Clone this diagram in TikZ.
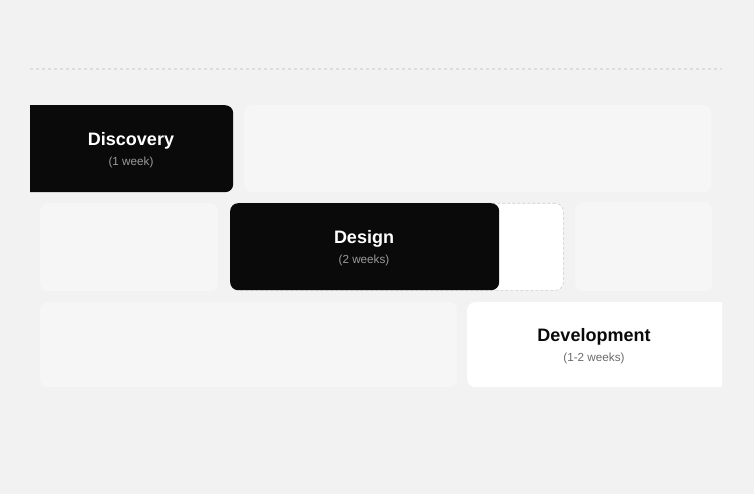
\documentclass[tikz,border=0pt]{standalone}
\usepackage{fontspec}
\setmainfont{Liberation Sans}
\definecolor{bg}{HTML}{F2F2F2}
\definecolor{cell}{HTML}{F6F6F6}
\definecolor{ink}{HTML}{0A0A0A}
\definecolor{rulecol}{HTML}{DDDDDD}
\definecolor{slotcol}{HTML}{CCCCCC}
\definecolor{subdark}{HTML}{9A9A9A}
\definecolor{sublight}{HTML}{6B6B6B}
\tikzset{
  cellbox/.style={fill=cell, rounded corners=8pt, draw=none},
  phasebox/.style={fill=ink, rounded corners=8pt, draw=none},
  lightphase/.style={fill=white, rounded corners=8pt, draw=none},
  slotbox/.style={fill=white, draw=slotcol, dash pattern=on 3pt off 2pt, line width=0.6pt, rounded corners=8pt},
  ttl/.style={font=\bfseries\fontsize{18}{20}\selectfont},
  sub/.style={font=\fontsize{11.7}{14}\selectfont},
}
\begin{document}
\begin{tikzpicture}[x=1pt,y=-1pt]
\useasboundingbox (0,0) rectangle (754,494);
\fill[bg] (0,0) rectangle (754,494);
% top dashed rule
\coordinate (tl) at (30,69);
\coordinate (tr) at (722,69);
\draw[rulecol, line width=1.2pt, dash pattern=on 3.3pt off 2.7pt] (tl) -- (tr);
% row 1
\begin{scope}
\clip (30,0) rectangle (754,494);
\node[phasebox, minimum width=223pt, minimum height=87pt, anchor=north west, inner sep=0pt] (disc) at (10,105) {};
\end{scope}
\node[cellbox, minimum width=467pt, minimum height=87pt, anchor=north west, inner sep=0pt] (r1c2) at (244,105) {};
\node[ttl, text=white] (disct) at (131,140.5) {Discovery};
\node[sub, text=subdark] (discs) at (131,162) {(1 week)};
% row 2
\node[cellbox, minimum width=178pt, minimum height=88pt, anchor=north west, inner sep=0pt] (r2c1) at (40,203) {};
\node[slotbox, minimum width=333pt, minimum height=87pt, anchor=north west, inner sep=0pt] (slot) at (230,203) {};
\node[phasebox, minimum width=269pt, minimum height=87pt, anchor=north west, inner sep=0pt] (des) at (230,203) {};
\node[cellbox, minimum width=137pt, minimum height=89pt, anchor=north west, inner sep=0pt] (r2c3) at (575,202) {};
\node[ttl, text=white] (dest) at (364,238.5) {Design};
\node[sub, text=subdark] (dess) at (364,260) {(2 weeks)};
% row 3
\node[cellbox, minimum width=417pt, minimum height=85pt, anchor=north west, inner sep=0pt] (r3c1) at (40,302) {};
\begin{scope}
\clip (0,0) rectangle (722,494);
\node[lightphase, minimum width=275pt, minimum height=85pt, anchor=north west, inner sep=0pt] (dev) at (467,302) {};
\end{scope}
\node[ttl, text=ink] (devt) at (594,336.5) {Development};
\node[sub, text=sublight] (devs) at (594,358) {(1-2 weeks)};
\end{tikzpicture}
\end{document}
